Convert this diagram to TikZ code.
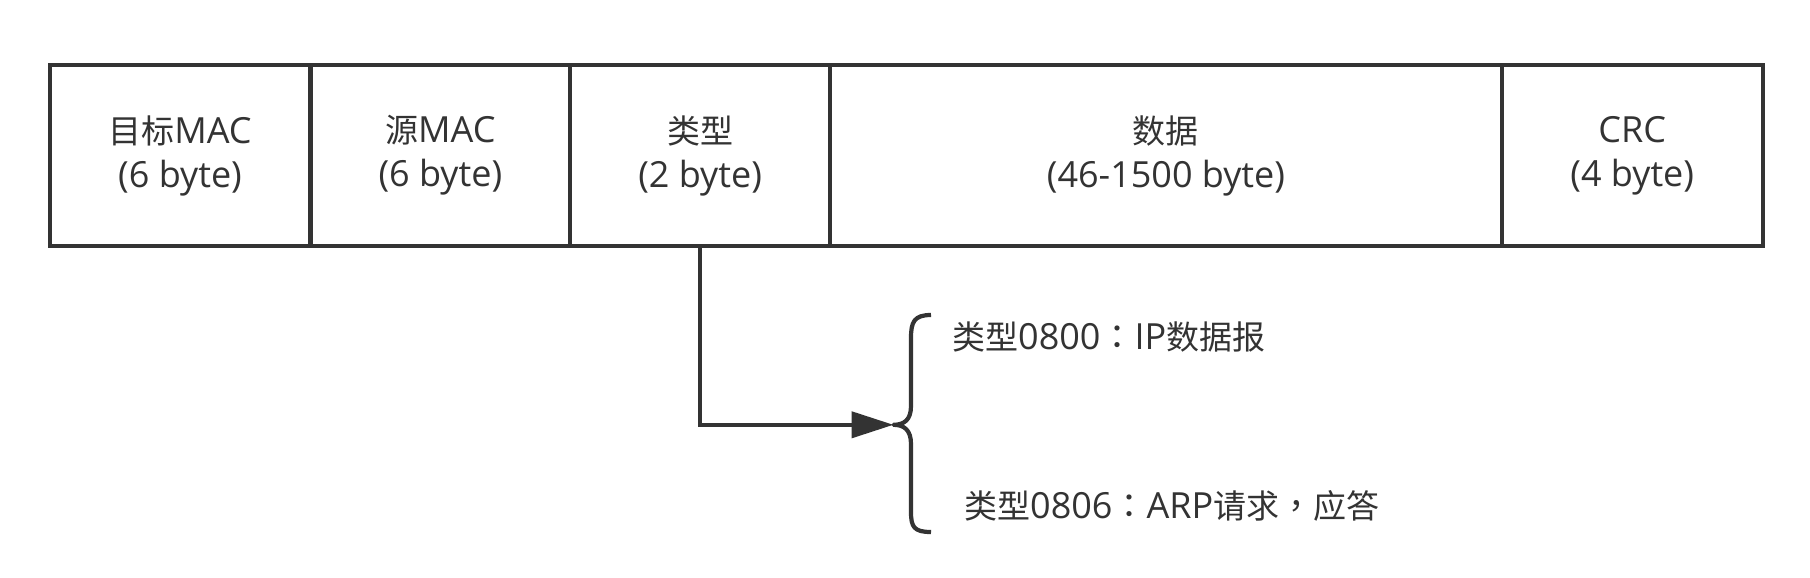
\documentclass[tikz,border=0pt]{standalone}
\usepackage{fontspec}
\setmainfont{Open Sans}
\newfontfamily\cjk{Noto Sans CJK SC}
\newfontfamily\cjkp{Noto Sans CJK TC}
\usetikzlibrary{arrows.meta}
\definecolor{ink}{HTML}{333333}
\begin{document}
\begin{tikzpicture}[x=1pt,y=-1pt,
  field/.style={draw=ink, line width=4.2pt, minimum height=181.2pt, inner sep=0pt, text=ink,
    align=center, font=\fontsize{36}{44}\selectfont},
  lbl/.style={anchor=west, inner sep=0pt, text=ink, font=\fontsize{36}{44}\selectfont},
  conn/.style={draw=ink, line width=4.2pt}]
\newcommand\zh[1]{{\cjk\fontsize{33}{44}\selectfont #1}}
\newcommand\zp[1]{{\cjkp\fontsize{34}{44}\selectfont #1}}
\useasboundingbox[fill=white] (0,0) rectangle (1810,578);
\node[field, minimum width=260.9pt] (f1) at (180.05,155.5) {\zh{目标}MAC\\(6 byte)};
\node[field, minimum width=259.7pt] (f2) at (440.35,155.5) {\zh{源}MAC\\(6 byte)};
\node[field, minimum width=259.8pt] (f3) at (700.1,155.5) {\zh{类型}\\(2 byte)};
\node[field, minimum width=671.8pt] (f4) at (1165.9,155.5) {\zh{数据}\\(46-1500 byte)};
\node[field, minimum width=260.8pt] (f5) at (1632.2,155.5) {CRC\\(4 byte)};
\coordinate (tip) at (893.5,424.8);
\coordinate (btop) at (931,315);
\coordinate (bbot) at (931,532);
\draw[conn, line join=round] (btop) .. controls (914,315) and (911,322) .. (911,338)
  -- (911,406) .. controls (911,420) and (904,424.8) .. (tip)
  .. controls (904,424.8) and (911,430) .. (911,444)
  -- (911,512) .. controls (911,527) and (914,532) .. (bbot);
\draw[conn, -{Triangle[length=42pt,width=26pt]}] (f3.south |- 0,244.7) |- (tip);
\node[lbl] (t1) at (952,337) {\zh{类型}0800\zp{：}IP\zh{数据报}};
\node[lbl] (t2) at (964,505.6) {\zh{类型}0806\zp{：}ARP\zh{请求}\zp{，}\zh{应答}};
\end{tikzpicture}
\end{document}
